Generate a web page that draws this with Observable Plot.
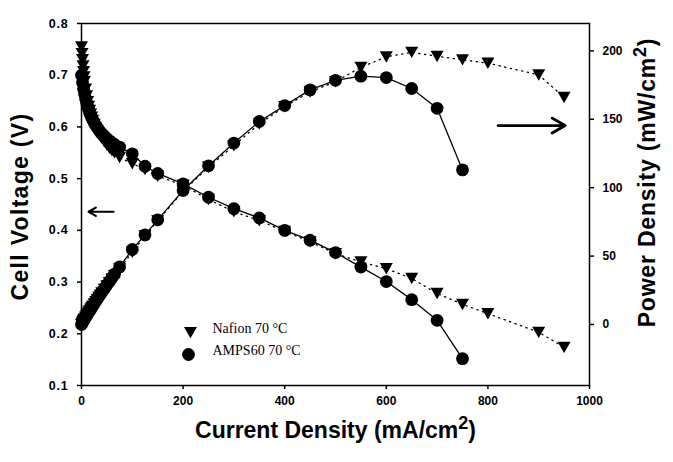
<!DOCTYPE html>
<html>
<head>
<meta charset="utf-8">
<script src="https://cdn.jsdelivr.net/npm/d3@7"></script>
<script src="https://cdn.jsdelivr.net/npm/@observablehq/plot@0.6"></script>
<style>
  html, body { margin: 0; padding: 0; background: #ffffff; }
  #chart svg { display: block; }
</style>
</head>
<body>
<div id="chart"></div>
<script>
// ---------- data ----------
const seriesNames = ["Nafion 70 °C", "AMPS60 70 °C"];

const nafionCurrent = [0,1,2,3,4,5,6,8,10,12,14,16,18,20,22,25,28,31,34,37,40,45,50,55,60,65,75,100,125,150,200,250,300,350,400,450,500,550,600,650,700,750,800,900,950];
const nafionVoltage = [0.755,0.742,0.73,0.718,0.707,0.697,0.688,0.673,0.66,0.649,0.64,0.632,0.625,0.619,0.613,0.605,0.598,0.592,0.587,0.582,0.578,0.571,0.565,0.559,0.554,0.55,0.541,0.529,0.518,0.505,0.487,0.46,0.436,0.419,0.398,0.378,0.355,0.339,0.326,0.307,0.278,0.257,0.239,0.203,0.174];
const nafionPower   = [0,0.7,1.5,2.2,2.8,3.5,4.1,5.4,6.6,7.8,9,10.1,11.3,12.4,13.5,15.1,16.7,18.4,20,21.5,23.1,25.7,28.3,30.7,33.2,35.8,40.6,52.9,64.8,75.8,97.4,115,130.8,146.7,159.2,170,177.5,188,195.6,199,196,193.5,191,182.5,166];

const ampsCurrent = [0,2,4,6,8,10,12,14,16,18,20,23,26,30,34,38,42,46,50,55,60,65,75,100,125,150,200,250,300,350,400,450,500,550,600,650,700,750];
const ampsVoltage = [0.70,0.686,0.674,0.664,0.655,0.647,0.64,0.634,0.628,0.623,0.618,0.612,0.606,0.6,0.594,0.589,0.585,0.581,0.577,0.573,0.569,0.566,0.561,0.548,0.524,0.51,0.49,0.464,0.442,0.424,0.4,0.381,0.357,0.329,0.301,0.266,0.226,0.152];
const ampsPower   = [0,1.4,2.7,4,5.2,6.5,7.7,8.9,10,11.2,12.4,14.1,15.8,18,20.2,22.4,24.6,26.7,28.9,31.5,34.1,36.8,42.1,54.8,65.5,76.5,98,116,132.6,148.4,160,171.5,178.5,181.5,180.5,172.5,158,113];

const xTicks = [0, 200, 400, 600, 800, 1000];
const voltageTicks = [0.1, 0.2, 0.3, 0.4, 0.5, 0.6, 0.7, 0.8];
const powerTicks = [0, 50, 100, 150, 200];
const voltageDomain = [0.1, 0.8];
const powerDomain = [-44.6, 220];

// annotation arrows (data units): left arrow points at voltage axis, right arrow at power axis
const leftArrow  = [{from: 63, to: 14, voltage: 0.436}];
const rightArrow = [{from: 820, to: 952, power: 145.4}];

// ---------- build ----------
const toV = d3.scaleLinear().domain(powerDomain).range(voltageDomain);

const nafion = nafionCurrent.map((I, i) => ({I, V: nafionVoltage[i], P: toV(nafionPower[i])}));
const amps = ampsCurrent.map((I, i) => ({I, V: ampsVoltage[i], P: toV(ampsPower[i])}));

const triDown = {
  draw(context, size) {
    const r = Math.sqrt(size / Math.PI);
    const w = 1.05 * r, h = 0.9 * r;
    context.moveTo(-w, -h);
    context.lineTo(w, -h);
    context.lineTo(0, h * 1.05);
    context.closePath();
  }
};

const lineBlack = {stroke: "black"};

const chart = Plot.plot({
  width: 673,
  height: 462,
  marginLeft: 81,
  marginRight: 84,
  marginTop: 23,
  marginBottom: 77,
  x: {domain: [0, 1000]},
  y: {domain: voltageDomain},
  style: {fontFamily: "'Liberation Sans', Arial, sans-serif", fontSize: "12px", fontWeight: "bold", background: "white", color: "black"},
  marks: [
    Plot.axisX({ticks: xTicks, tickSize: 4, tickPadding: 7, label: null, tickFormat: d => String(d), strokeWidth: 1.5}),
    Plot.axisY({ticks: voltageTicks, tickSize: 4, tickPadding: 9, label: null, tickFormat: d3.format(".1f"), strokeWidth: 1.5, fontSize: 12.5, className: "vticks"}),
    Plot.axisY(powerTicks.map(p => toV(p)), {anchor: "right", tickSize: 4, tickPadding: 9, label: null, tickFormat: d => String(Math.round(toV.invert(d))), strokeWidth: 1.5, textAnchor: "start"}),
    Plot.frame({stroke: "black", strokeWidth: 1.5}),

    // Nafion: dotted lines
    Plot.line(nafion, {x: "I", y: "V", ...lineBlack, strokeWidth: 1.3, strokeDasharray: "1.3,4.5"}),
    Plot.line(nafion, {x: "I", y: "P", ...lineBlack, strokeWidth: 1.3, strokeDasharray: "1.3,4.5"}),
    // AMPS60: solid lines
    Plot.line(amps, {x: "I", y: "V", ...lineBlack, strokeWidth: 1.3}),
    Plot.line(amps, {x: "I", y: "P", ...lineBlack, strokeWidth: 1.3}),

    Plot.dot(nafion, {x: "I", y: "V", symbol: triDown, r: 6.2, fill: "black", stroke: "none"}),
    Plot.dot(nafion, {x: "I", y: "P", symbol: triDown, r: 6.2, fill: "black", stroke: "none"}),
    Plot.dot(amps, {x: "I", y: "V", r: 6.4, fill: "black", stroke: "none"}),
    Plot.dot(amps, {x: "I", y: "P", r: 6.4, fill: "black", stroke: "none"}),

    // arrows
    Plot.arrow(leftArrow, {x1: "from", x2: "to", y1: "voltage", y2: "voltage", stroke: "black", strokeWidth: 2.2, headLength: 7}),
    Plot.arrow(rightArrow, {x1: "from", x2: "to", y1: d => toV(d.power), y2: d => toV(d.power), stroke: "black", strokeWidth: 2.8, headLength: 8}),

    // legend
    Plot.dot([seriesNames[0]], {frameAnchor: "bottom-left", dx: 109, dy: -53, symbol: triDown, r: 6.2, fill: "black", stroke: "none"}),
    Plot.dot([seriesNames[1]], {frameAnchor: "bottom-left", dx: 107, dy: -31, r: 6.4, fill: "black", stroke: "none"}),
    Plot.text([seriesNames[0]], {frameAnchor: "bottom-left", dx: 131, dy: -53, textAnchor: "start", fontFamily: "'Liberation Serif', 'Times New Roman', serif", fontWeight: "normal", fontSize: 14}),
    Plot.text([seriesNames[1]], {frameAnchor: "bottom-left", dx: 131, dy: -31, textAnchor: "start", fontFamily: "'Liberation Serif', 'Times New Roman', serif", fontWeight: "normal", fontSize: 14}),

    // axis titles
    Plot.text(["Cell Voltage (V)"], {frameAnchor: "left", dx: -61, dy: 2, rotate: -90, textAnchor: "middle", fontSize: 23, fontWeight: "bold", className: "ytitle"}),
    Plot.text(["Power Density (mW/cm2)"], {frameAnchor: "right", dx: 58, dy: -22, rotate: -90, textAnchor: "middle", fontSize: 23, fontWeight: "bold", className: "sup-title ytitle2"}),
    Plot.text(["Current Density (mA/cm2)"], {frameAnchor: "bottom", dy: 52, textAnchor: "middle", fontSize: 23, fontWeight: "bold", className: "sup-title"})
  ]
});

// render the "2" in the unit titles as a superscript
d3.select(chart).selectAll(".sup-title text").each(function() {
  const t = d3.select(this);
  const s = t.text();
  const k = s.lastIndexOf("2");
  t.text(null);
  t.append("tspan").text(s.slice(0, k));
  t.append("tspan").attr("font-size", 18).attr("dy", -9).text("2");
  t.append("tspan").attr("dy", 9).text(s.slice(k + 1));
});
// the scanned vertical titles and voltage tick labels are a little wider
d3.select(chart).selectAll(".ytitle text").attr("letter-spacing", 1.3);
d3.select(chart).selectAll(".ytitle2 text").attr("letter-spacing", 0.8);
d3.select(chart).selectAll(".vticks text").attr("letter-spacing", 0.8);

document.getElementById("chart").appendChild(chart);
</script>
</body>
</html>
